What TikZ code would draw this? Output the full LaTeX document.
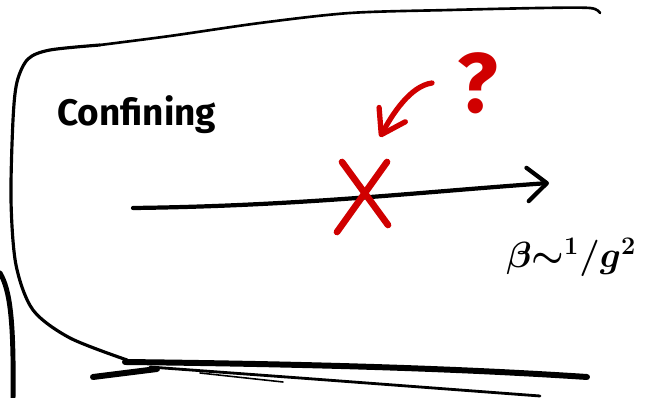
\documentclass[tikz,border=0pt]{standalone}
\usepackage{bm}
\usepackage{fontspec}
\newfontfamily\handfont{Fira Sans}
\usetikzlibrary{arrows.meta}
\definecolor{inkred}{RGB}{208,0,0}
\tikzset{
    pen/.style={black, line width=#1, line cap=round, line join=round},
    redpen/.style={inkred, line width=3.8pt, line cap=round, line join=round},
}
\begin{document}
\begin{tikzpicture}[x=0.2mm, y=-0.2mm]
    \useasboundingbox (0,0) rectangle (650,398);

    % Box outline
    \draw[pen=1.8pt] plot[smooth] coordinates {(127,360) (70,338) (33,310) (16,265) (11,200) (13,120) (17,82) (28,59) (50,50) (100,45)};
    \draw[pen=1.5pt] plot[smooth] coordinates {(100,45) (170,36) (260,23) (350,13) (450,10) (540,8) (590,8) (600,13)};

    % Bottom strokes
    \draw[pen=3.4pt] (125,362) .. controls (300,364) and (450,368) .. (587,377);
    \draw[pen=3.4pt] (93,377) -- (157,369);
    \draw[pen=1.6pt] (150,367) -- (300,378) -- (540,396);
    \draw[pen=0.9pt] (200,373) -- (283,382);

    % Edge of the next box
    \draw[pen=2.8pt] (0,273) .. controls (10,290) and (14,320) .. (13,400);

    % Label
    \node[anchor=base west, inner sep=0] (confining) at (57,126) {\handfont\bfseries\fontsize{21}{25}\selectfont Confining};

    % Flow arrow
    \coordinate (flowstart) at (133,208);
    \coordinate (flowend) at (549,183);
    \draw[pen=2.4pt, -{Straight Barb[length=11pt, width=19pt, round]}] (flowstart) .. controls (300,206) and (420,192) .. (flowend);
    \node[anchor=base west, inner sep=0] (coupling) at (506,268) {\huge $\bm{\beta{\sim}{}^{1}/g^{2}}$};

    % Red cross
    \coordinate (crossnw) at (342,162);
    \coordinate (crossse) at (388,225);
    \coordinate (crossne) at (387,162);
    \coordinate (crosssw) at (337,232);
    \draw[redpen] (crossnw) -- (crossse);
    \draw[redpen] (crossne) -- (crosssw);

    % Question
    \node[anchor=base, inner sep=0, text=inkred] (question) at (478,113) {\handfont\bfseries\fontsize{48}{52}\selectfont ?};
    \coordinate (pointfrom) at (432,83);
    \coordinate (pointto) at (380,137);
    \draw[redpen, line width=3pt, -{Straight Barb[length=13pt, width=17pt, round]}] (pointfrom) .. controls (410,86) and (392,115) .. (pointto);
\end{tikzpicture}
\end{document}
